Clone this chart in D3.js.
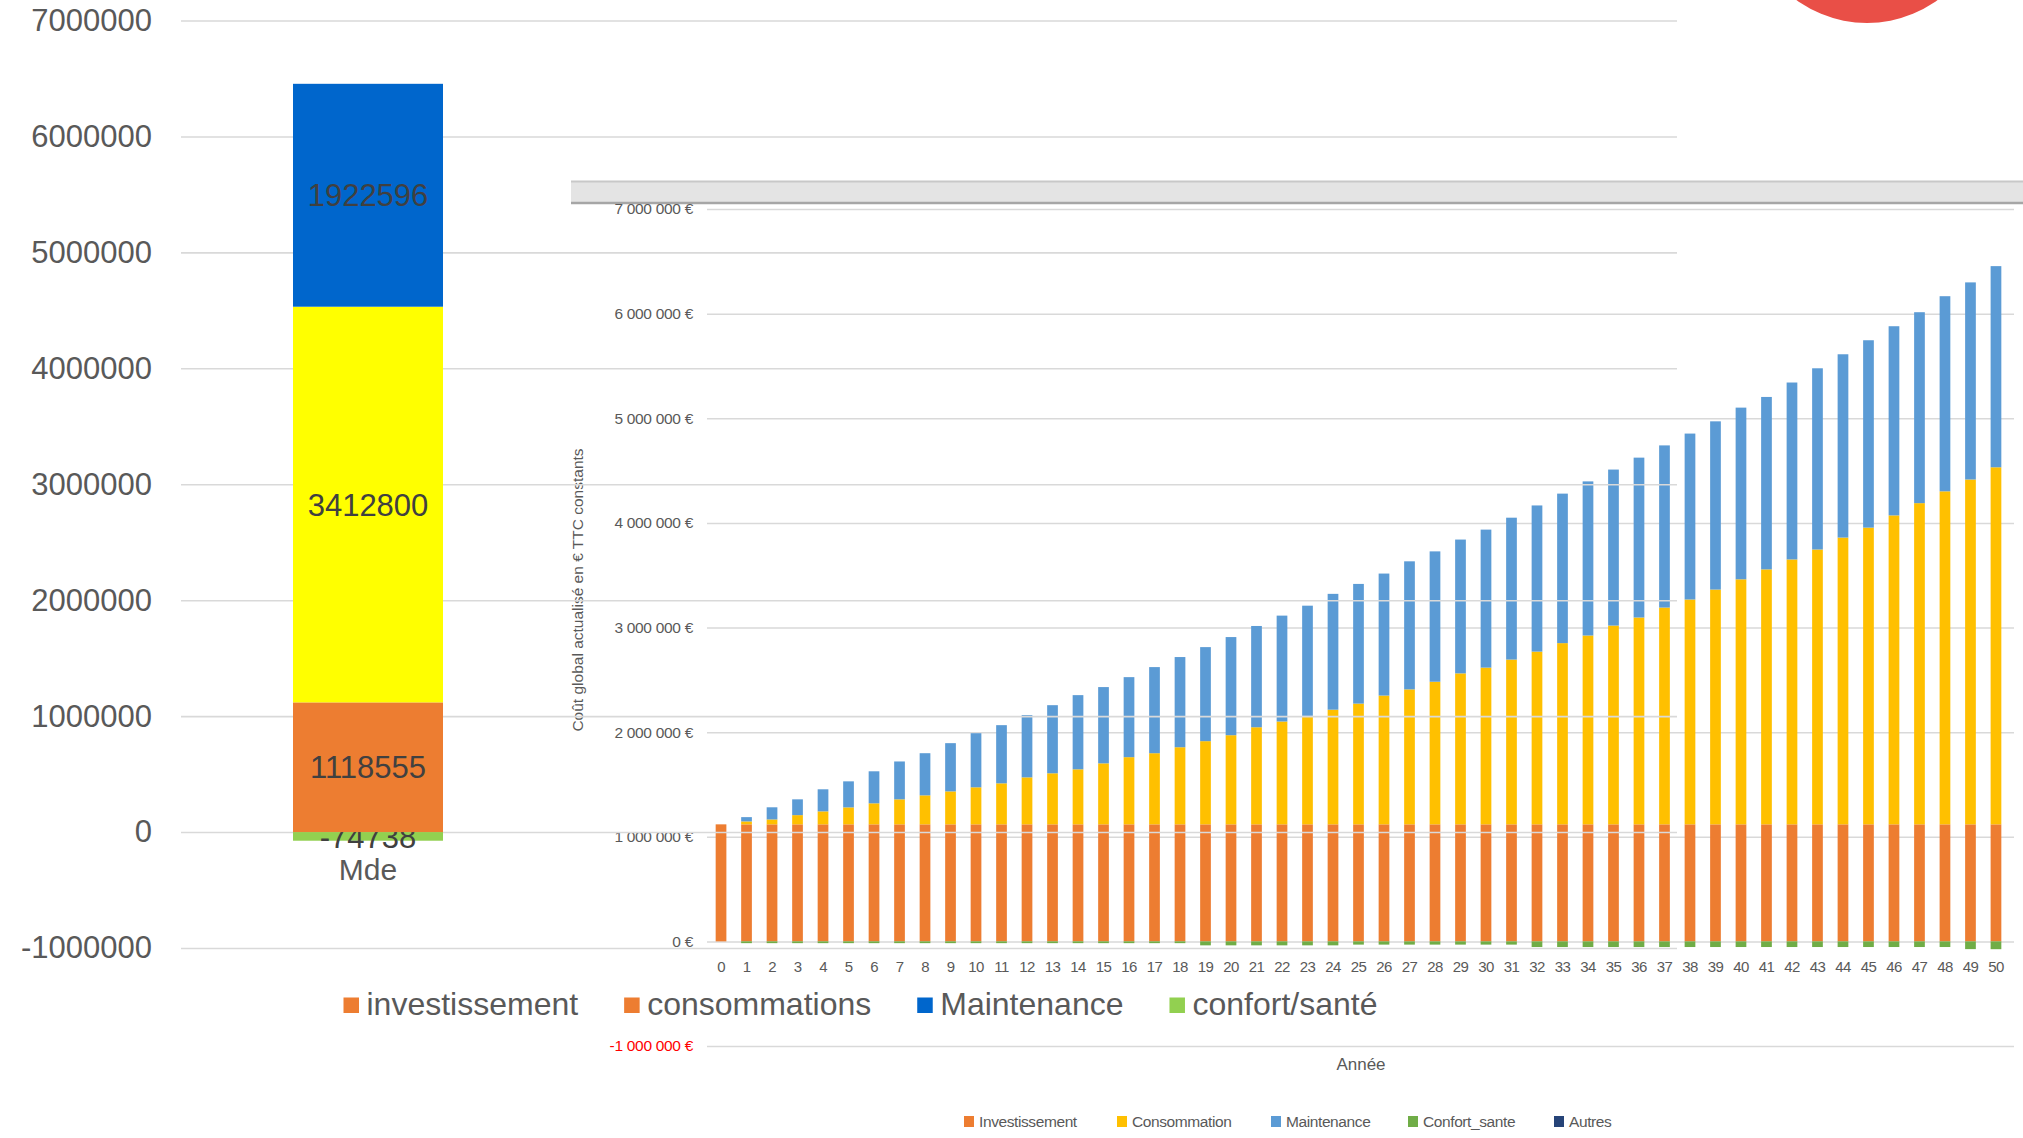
<!DOCTYPE html>
<html>
<head>
<meta charset="utf-8">
<script src="https://cdn.jsdelivr.net/npm/d3@7"></script>
<style>
    body { margin: 0; background: #fff; }
    svg { display: block; }
</style>
</head>
<body>
<div id="root"></div>
<script>
const WIDTH = 2023;
const HEIGHT = 1138;

// ---- main chart (single stacked column "Mde") ----
const mdeCategory = ['Mde'];
const mdeKeys = ['confort/santé', 'investissement', 'consommations', 'Maintenance'];
const mdeValues = [-74738, 1118555, 3412800, 1922596];
const mdeColors = ['#92d050', '#ed7d31', '#ffff00', '#0066cc'];
const mdeTicks = [-1000000, 0, 1000000, 2000000, 3000000, 4000000, 5000000, 6000000, 7000000];
const mdeLegend = ['investissement', 'consommations', 'Maintenance', 'confort/santé'];
const mdeLegendColors = ['#ed7d31', '#ed7d31', '#0066cc', '#92d050'];

// ---- inset chart (coût global par année) ----
const years = [0, 1, 2, 3, 4, 5, 6, 7, 8, 9, 10, 11, 12, 13, 14, 15, 16, 17, 18, 19, 20,
    21, 22, 23, 24, 25, 26, 27, 28, 29, 30, 31, 32, 33, 34, 35, 36, 37, 38, 39, 40,
    41, 42, 43, 44, 45, 46, 47, 48, 49, 50];
const investissement = [1118555, 1118555, 1118555, 1118555, 1118555, 1118555, 1118555, 1118555, 1118555, 1118555,
    1118555, 1118555, 1118555, 1118555, 1118555, 1118555, 1118555, 1118555, 1118555, 1118555,
    1118555, 1118555, 1118555, 1118555, 1118555, 1118555, 1118555, 1118555, 1118555, 1118555,
    1118555, 1118555, 1118555, 1118555, 1118555, 1118555, 1118555, 1118555, 1118555, 1118555,
    1118555, 1118555, 1118555, 1118555, 1118555, 1118555, 1118555, 1118555, 1118555, 1118555,
    1118555];
const consommation = [0, 28000, 47000, 88000, 124000, 162000, 201000, 239000, 277000, 315000,
    354000, 392000, 449000, 488000, 526000, 583000, 642000, 680000, 737000, 795000,
    852000, 928000, 983000, 1037000, 1096000, 1154000, 1231000, 1290000, 1363000, 1443000,
    1498000, 1575000, 1651000, 1732000, 1805000, 1900000, 1977000, 2072000, 2149000, 2244000,
    2342000, 2437000, 2532000, 2627000, 2741000, 2836000, 2953000, 3070000, 3183000, 3296000,
    3412800];
const maintenance = [0, 41000, 116000, 151000, 211000, 249000, 306000, 362000, 403000, 461000,
    517000, 556000, 595000, 651000, 709000, 729000, 765000, 823000, 862000, 899000,
    938000, 968000, 1012000, 1053000, 1107000, 1144000, 1166000, 1224000, 1246000, 1279000,
    1319000, 1356000, 1397000, 1429000, 1473000, 1491000, 1528000, 1550000, 1586000, 1608000,
    1641000, 1648000, 1691000, 1732000, 1752000, 1791000, 1808000, 1825000, 1865000, 1884000,
    1922596];
const confortSante = [0, -17000, -17000, -17000, -17000, -17000, -17000, -17000, -17000, -17000,
    -17000, -17000, -17000, -17000, -17000, -17000, -17000, -17000, -17000, -38000,
    -38000, -38000, -38000, -38000, -38000, -31000, -31000, -31000, -31000, -31000,
    -31000, -31000, -54000, -54000, -54000, -54000, -54000, -54000, -54000, -54000,
    -54000, -54000, -54000, -54000, -54000, -54000, -54000, -54000, -54000, -74000,
    -74738];
const insetTicks = [-1000000, 0, 1000000, 2000000, 3000000, 4000000, 5000000, 6000000, 7000000];
const insetKeys = ['Investissement', 'Consommation', 'Maintenance', 'Confort_sante'];
const insetLegend = ['Investissement', 'Consommation', 'Maintenance', 'Confort_sante', 'Autres'];
const insetColors = {
    Investissement: '#ed7d31',
    Consommation: '#ffc000',
    Maintenance: '#5b9bd5',
    Confort_sante: '#70ad47',
    Autres: '#264478'
};

const FONT = '"Liberation Sans", Arial, sans-serif';

const svg = d3.select('#root').append('svg')
    .attr('width', WIDTH)
    .attr('height', HEIGHT)
    .style('font-family', FONT);

svg.append('defs').append('clipPath')
    .attr('id', 'insetClip')
    .append('rect')
        .attr('x', 571).attr('y', 170)
        .attr('width', WIDTH - 571).attr('height', HEIGHT - 170);

// red disc peeking at top right
svg.append('circle')
    .attr('cx', 1867).attr('cy', -97).attr('r', 120)
    .attr('fill', '#e94f47');

// ================= inset =================
const inset = svg.append('g').attr('clip-path', 'url(#insetClip)');

inset.append('rect')
    .attr('x', 571).attr('y', 181).attr('width', WIDTH - 571).attr('height', 22)
    .attr('fill', '#e4e4e4');
inset.append('line')
    .attr('x1', 571).attr('x2', WIDTH).attr('y1', 181.5).attr('y2', 181.5)
    .attr('stroke', '#c8c8c8').attr('stroke-width', 2);
inset.append('line')
    .attr('x1', 571).attr('x2', WIDTH).attr('y1', 203).attr('y2', 203)
    .attr('stroke', '#a6a6a6').attr('stroke-width', 2.5);

const iy = d3.scaleLinear().domain([-1000000, 7000000]).range([1046, 209]);
const ix = d3.scaleBand().domain(years).range([707, 2010]).paddingInner(0.58).paddingOuter(0.34);
const euro = v => d3.format(',')(v).replace(/,/g, ' ').replace('\u2212', '-') + ' €';

inset.append('g')
    .attr('transform', 'translate(707, 0)')
    .attr('font-family', null).attr('font-size', null)
    .call(d3.axisLeft(iy).tickValues(insetTicks).tickSize(-1307).tickPadding(14).tickFormat(euro))
    .call(g => g.select('.domain').remove())
    .call(g => g.selectAll('.tick line').attr('stroke', '#d9d9d9').attr('stroke-width', 1.5))
    .call(g => g.selectAll('.tick text')
        .attr('fill', d => d < 0 ? '#ff0000' : '#595959')
        .style('font-size', '15.5px')
        .style('letter-spacing', '-0.3px'));

const rows = years.map((yr, i) => ({
    year: yr,
    Investissement: investissement[i],
    Consommation: consommation[i],
    Maintenance: maintenance[i],
    Confort_sante: confortSante[i]
}));
const insetStack = d3.stack().keys(insetKeys).offset(d3.stackOffsetDiverging)(rows);

inset.append('g')
    .selectAll('g')
    .data(insetStack)
    .enter().append('g')
        .attr('fill', d => insetColors[d.key])
    .selectAll('rect')
    .data(d => d)
    .enter().append('rect')
        .attr('x', d => ix(d.data.year))
        .attr('width', ix.bandwidth())
        .attr('y', d => iy(Math.max(d[0], d[1])))
        .attr('height', d => Math.abs(iy(d[0]) - iy(d[1])));

inset.append('g')
    .attr('transform', `translate(0, ${iy(0)})`)
    .attr('font-family', null).attr('font-size', null)
    .call(d3.axisBottom(ix).tickSize(0).tickPadding(20))
    .call(g => g.select('.domain').remove())
    .call(g => g.selectAll('.tick text')
        .attr('fill', '#595959')
        .style('font-size', '15px')
        .style('letter-spacing', '-0.6px'));

// axis title, its top edge is cut by the inset border
inset.append('text')
    .attr('transform', 'translate(583, 590) rotate(-90)')
    .attr('text-anchor', 'middle')
    .attr('fill', '#595959')
    .style('font-size', '15.5px')
    .text('Coût global actualisé en € TTC constants');

inset.append('text')
    .attr('x', 1361).attr('y', 1070)
    .attr('text-anchor', 'middle')
    .attr('fill', '#595959')
    .style('font-size', '17px')
    .text('Année');

const insetLegendX = [964, 1117, 1271, 1408, 1554];
const il = inset.selectAll('.ilegend')
    .data(insetLegend)
    .enter().append('g')
        .attr('class', 'ilegend')
        .attr('transform', (d, i) => `translate(${insetLegendX[i]}, 1116)`);
il.append('rect')
    .attr('width', 10).attr('height', 11)
    .attr('fill', d => insetColors[d]);
il.append('text')
    .attr('x', 15).attr('y', 11)
    .attr('fill', '#595959')
    .style('font-size', '15.5px')
    .style('letter-spacing', '-0.4px')
    .text(d => d);

// ================= main chart =================
const y = d3.scaleLinear().domain([-1000000, 7000000]).range([948, 20.5]);
const x = d3.scaleBand().domain(mdeCategory).range([181, 555]).padding(0.4275);

const main = svg.append('g');

main.append('g')
    .attr('transform', 'translate(181, 0)')
    .attr('font-family', null).attr('font-size', null)
    .call(d3.axisLeft(y).tickValues(mdeTicks).tickSize(-1496).tickPadding(29).tickFormat(d => String(d)))
    .call(g => g.select('.domain').remove())
    .call(g => g.selectAll('.tick line').attr('stroke', '#d9d9d9').attr('stroke-width', 1.6))
    .call(g => g.selectAll('.tick text').attr('fill', '#595959').style('font-size', '31px'));

const mdeRow = { cat: 'Mde' };
mdeKeys.forEach((k, i) => mdeRow[k] = mdeValues[i]);
const mdeStack = d3.stack().keys(mdeKeys).offset(d3.stackOffsetDiverging)([mdeRow]);

const seg = main.selectAll('.seg')
    .data(mdeStack)
    .enter().append('g')
        .attr('class', 'seg');

seg.append('rect')
    .attr('x', x('Mde'))
    .attr('width', x.bandwidth())
    .attr('y', d => y(Math.max(d[0][0], d[0][1])))
    .attr('height', d => Math.abs(y(d[0][0]) - y(d[0][1])))
    .attr('fill', (d, i) => mdeColors[i]);

seg.append('text')
    .attr('x', x('Mde') + x.bandwidth() / 2)
    .attr('y', d => y((d[0][0] + d[0][1]) / 2))
    .attr('dy', '0.36em')
    .attr('text-anchor', 'middle')
    .attr('fill', '#404040')
    .style('font-size', '31px')
    .text(d => String(d[0].data[d.key]));

main.append('text')
    .attr('x', x('Mde') + x.bandwidth() / 2)
    .attr('y', 880)
    .attr('text-anchor', 'middle')
    .attr('fill', '#595959')
    .style('font-size', '30px')
    .text('Mde');

// legend
let lx = 343.5;
mdeLegend.forEach((name, i) => {
    const g = main.append('g').attr('transform', `translate(${lx}, 0)`);
    g.append('rect')
        .attr('y', 997.5).attr('width', 15.5).attr('height', 15.5)
        .attr('fill', mdeLegendColors[i]);
    const t = g.append('text')
        .attr('x', 23).attr('y', 1015)
        .attr('fill', '#595959')
        .style('font-size', '32px')
        .text(name);
    lx += 23 + t.node().getComputedTextLength() + 46;
});
</script>
</body>
</html>
